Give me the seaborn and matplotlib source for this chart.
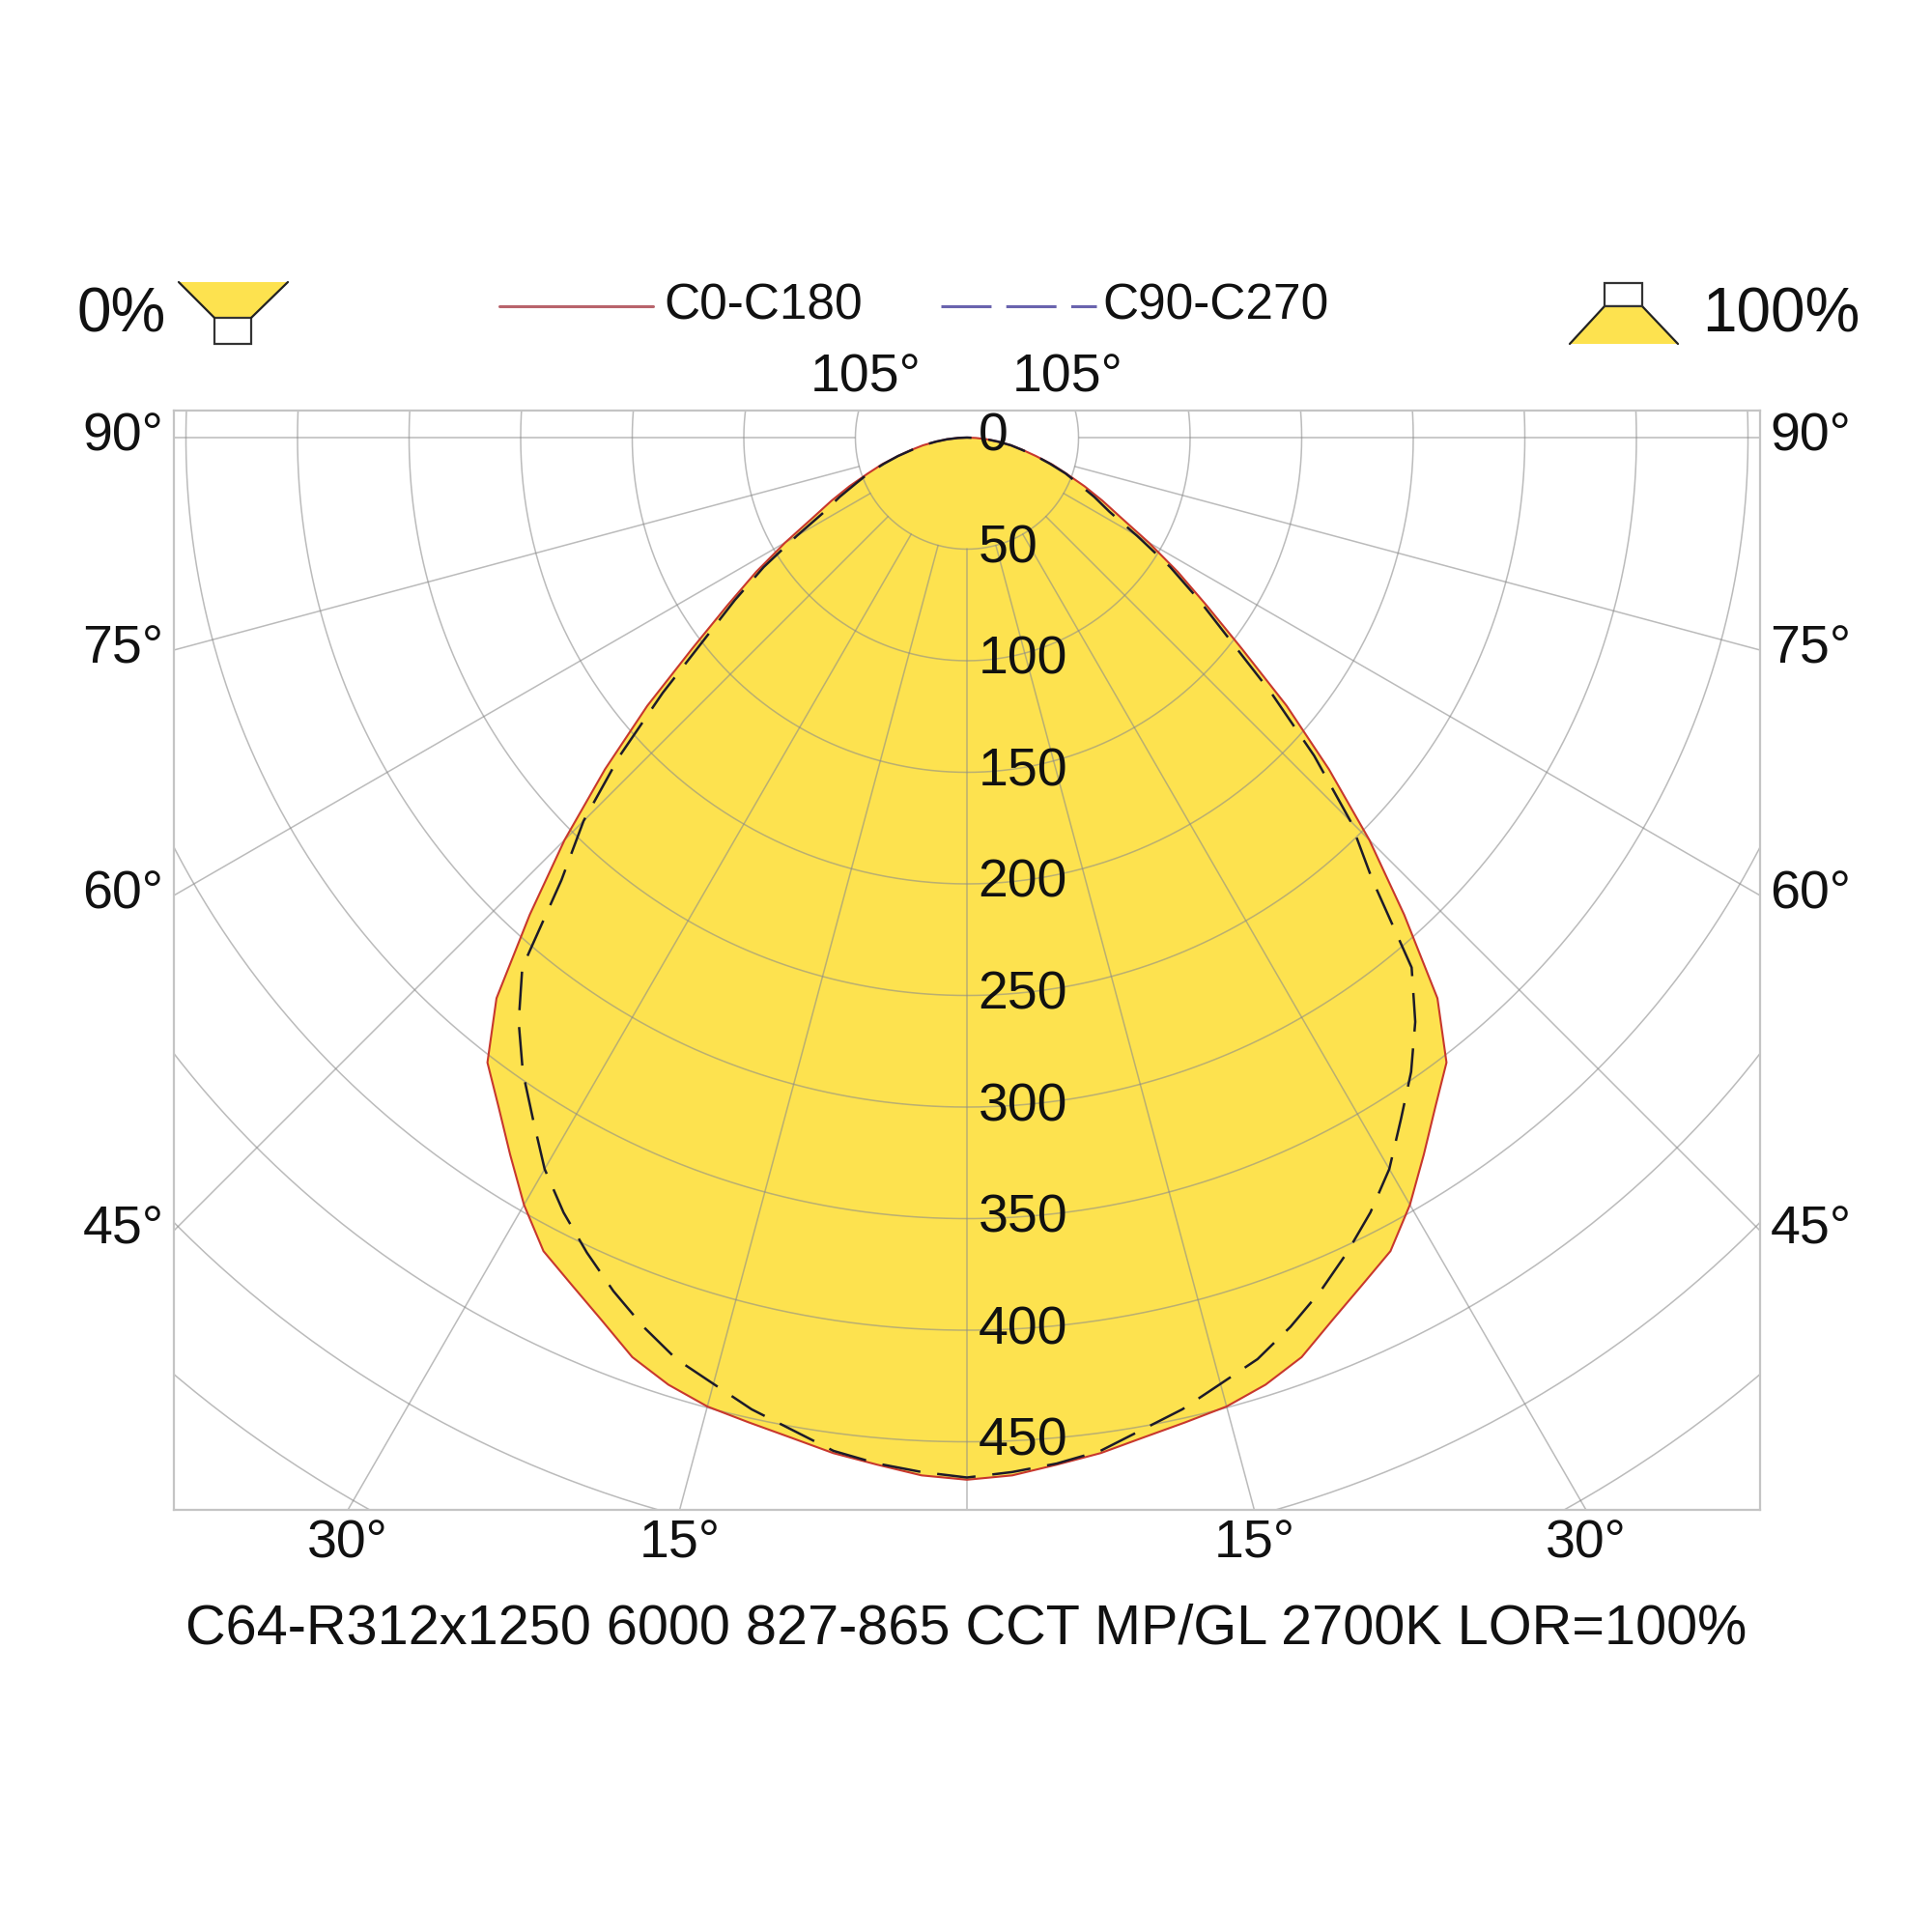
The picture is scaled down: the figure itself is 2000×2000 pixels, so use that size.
import numpy as np
import pandas as pd
import matplotlib
matplotlib.use("Agg")
import matplotlib.pyplot as plt
import seaborn as sns
from matplotlib.patches import Polygon, Rectangle

# ---------------- data (cd/klm) ----------------
gamma = [0, 2.5, 5, 7.5, 10, 12.5, 15, 17.5, 20, 22.5, 25, 27.5, 30, 32.5, 35, 37.5,
         40, 42.5, 45, 47.5, 50, 52.5, 55, 57.5, 60, 62.5, 65, 67.5, 70, 72.5, 75,
         77.5, 80, 82.5, 85, 87.5, 90]
c0_c180 = [467, 465.5, 462, 459, 455, 452, 449.5, 445, 438.5, 428, 419, 411, 397, 381,
           366, 353, 328, 290, 255, 220, 187, 155, 131, 112, 94, 78, 67, 57, 47.5, 40,
           32, 25.5, 20, 14, 9, 4, 0]
c90_c270 = [466, 464, 461.5, 458, 451.5, 446, 439, 433, 424, 414, 403, 391.5, 378.5,
            362, 347, 330, 310, 269, 243, 211, 178, 148, 127, 108, 88, 72, 63, 54, 47,
            39, 32, 25, 20, 14, 9, 4, 0]
series_names = ["C0-C180", "C90-C270"]
radial_labels = [0, 50, 100, 150, 200, 250, 300, 350, 400, 450]
grid_rings = [50, 100, 150, 200, 250, 300, 350, 400, 450, 500, 550, 600, 650]
spoke_angles = [0, 15, 30, 45, 60, 75, 90, 105]
side_label_angles = [90, 75, 60, 45]
bottom_label_angles = [30, 15]
top_label_angle = 105
title = "C64-R312x1250 6000 827-865 CCT MP/GL 2700K LOR=100%"
left_pct = "0%"
right_pct = "100%"

YELLOW = "#FDE24F"
GRID = "#8a8a8a"

sns.set_theme(style="white")
plt.rcParams['font.family'] = ['Liberation Sans', 'DejaVu Sans']

fig = plt.figure(figsize=(20, 20), dpi=100)
XL = 355.4
YB, YT = -480.5, 12.1
ax = fig.add_axes([180 / 2000, 1 - 1563 / 2000, (1822 - 180) / 2000, (1563 - 425) / 2000])
ax.set_xlim(-XL, XL)
ax.set_ylim(YB, YT)
ax.set_xticks([])
ax.set_yticks([])
ax.set_facecolor("white")
for s in ax.spines.values():
    s.set_color("#c4c4c4")
    s.set_linewidth(1.6)


def curve_frame(values, name):
    g = np.radians(np.array(gamma, dtype=float))
    v = np.array(values, dtype=float)
    xl = -v[::-1] * np.sin(g[::-1])
    yl = -v[::-1] * np.cos(g[::-1])
    xr = v[1:] * np.sin(g[1:])
    yr = -v[1:] * np.cos(g[1:])
    x = np.concatenate([xl, xr])
    y = np.concatenate([yl, yr])
    return pd.DataFrame({"x": x, "y": y, "curve": name, "order": np.arange(len(x))})


df0 = curve_frame(c0_c180, series_names[0])
df90 = curve_frame(c90_c270, series_names[1])

# yellow fill under the outer curve
ax.fill(df0["x"], df0["y"], color=YELLOW, lw=0, zorder=1)

# grid: rings and spokes starting at first ring
t = np.linspace(0, 2 * np.pi, 721)
for r in grid_rings:
    ax.plot(r * np.sin(t), r * np.cos(t), color=GRID, alpha=0.58, lw=1.1, zorder=2)
for a in spoke_angles:
    for sgn in ([1] if a == 0 else [-1, 1]):
        ar = np.radians(a)
        rr = np.array([50, 900])
        ax.plot(sgn * rr * np.sin(ar), -rr * np.cos(ar), color=GRID, alpha=0.58,
                lw=1.1, zorder=2)

# curves
sns.lineplot(data=df0, x="x", y="y", sort=False, estimator=None, color="#c8372d",
             lw=1.5, ax=ax, zorder=4, legend=False)
sns.lineplot(data=df90, x="x", y="y", sort=False, estimator=None, color="#1c1a2a",
             lw=1.8, ax=ax, zorder=5, legend=False, dashes=False)
ax.lines[-1].set_dashes((16, 7))
ax.set_xlabel("")
ax.set_ylabel("")

# radial value labels
for v in radial_labels:
    ax.text(5.0, -v, str(v), ha="left", va="center", fontsize=40, color="#111111",
            zorder=6)

# angle labels
for a in side_label_angles:
    y = -XL / np.tan(np.radians(a)) if a != 90 else 0.0
    ax.text(-XL - 4.5, y, f"{a}°", ha="right", va="center", fontsize=40,
            color="#111111", clip_on=False)
    ax.text(XL + 4.5, y, f"{a}°", ha="left", va="center", fontsize=40,
            color="#111111", clip_on=False)
for a in bottom_label_angles:
    x = -YB * np.tan(np.radians(a))
    for sgn in (-1, 1):
        ax.text(sgn * x, YB - 15.5, f"{a}°", ha="center", va="center", fontsize=40,
                color="#111111", clip_on=False)
xt = YT / np.tan(np.radians(top_label_angle - 90))
for sgn in (-1, 1):
    ax.text(sgn * xt, YT + 14.5, f"{top_label_angle}°", ha="center", va="center",
            fontsize=40, color="#111111", clip_on=False)

# overlay in pixel coordinates for legend, icons and title
ov = fig.add_axes([0, 0, 1, 1], zorder=10)
ov.set_xlim(0, 2000)
ov.set_ylim(2000, 0)
ov.axis("off")
ov.patch.set_alpha(0)

ov.plot([517, 676], [317, 317], color="#b8646c", lw=2.2)
ov.text(687, 317, series_names[0], ha="left", va="center", fontsize=37, color="#111111")
ov.plot([974, 1135], [317, 317], color="#6a64ae", lw=2.2, dashes=(17, 5))
ov.text(1141, 317, series_names[1], ha="left", va="center", fontsize=37, color="#111111")

# 0% icon
ov.text(80, 327, left_pct, ha="left", va="center", fontsize=46, color="#111111")
ov.add_patch(Polygon([(185, 292), (298, 292), (260, 329), (222, 329)], closed=True,
                     facecolor=YELLOW, edgecolor="none"))
ov.plot([185, 222], [292, 329], color="#222222", lw=1.6)
ov.plot([298, 260], [292, 329], color="#222222", lw=1.6)
ov.add_patch(Rectangle((222, 329), 38, 27, facecolor="white", edgecolor="#333333", lw=1.6))

# 100% icon
ov.add_patch(Rectangle((1661, 293), 39, 24, facecolor="white", edgecolor="#333333", lw=1.6))
ov.add_patch(Polygon([(1661, 317), (1700, 317), (1737, 356), (1625, 356)], closed=True,
                     facecolor=YELLOW, edgecolor="none"))
ov.plot([1661, 1625], [317, 356], color="#222222", lw=1.6)
ov.plot([1700, 1737], [317, 356], color="#222222", lw=1.6)
ov.plot([1661, 1700], [317, 317], color="#333333", lw=1.6)
ov.text(1762, 327, right_pct, ha="left", va="center", fontsize=46, color="#111111")

# bottom caption
ov.text(1000, 1686, title, ha="center", va="center", fontsize=41.5, color="#111111")

fig.savefig("out.png", dpi=100, facecolor="white")
